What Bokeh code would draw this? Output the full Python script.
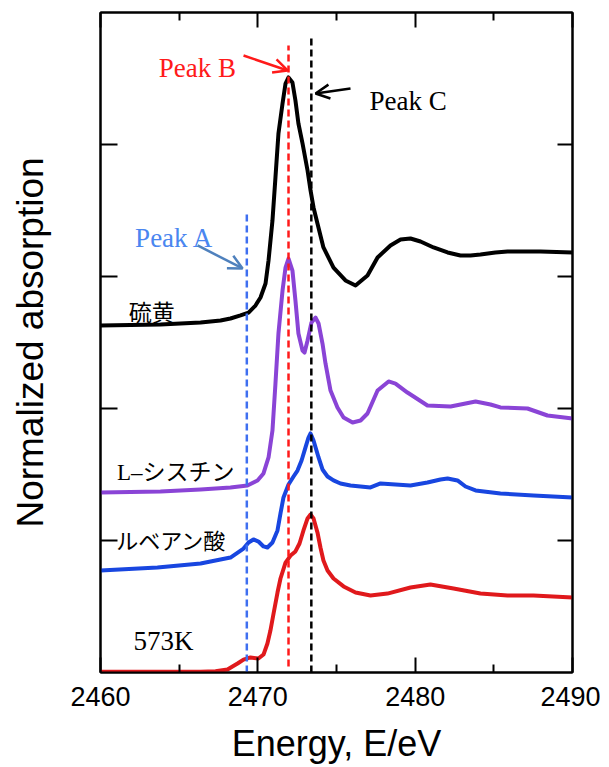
from bokeh.plotting import figure
from bokeh.models import (FixedTicker, LinearAxis, Label, Arrow, OpenHead, ColumnDataSource)
from bokeh.embed import file_html
from bokeh.resources import INLINE

# ---------------- data ----------------
E_sulfur = [2460.0, 2463.81, 2466.36, 2467.63, 2468.26, 2468.9, 2469.41, 2469.85, 2470.17, 2470.49,
            2470.68, 2470.93, 2471.12, 2471.31, 2471.57, 2471.76, 2471.95, 2472.2, 2472.39, 2472.58,
            2472.84, 2473.16, 2473.35, 2473.54, 2473.79, 2474.17, 2474.81, 2475.57, 2476.21, 2476.97,
            2477.61, 2478.43, 2479.07, 2479.7, 2480.34, 2481.17, 2482.06, 2482.88, 2483.52, 2484.15,
            2485.1, 2485.87, 2487.97, 2490.0]
A_sulfur = [2.629, 2.636, 2.652, 2.667, 2.682, 2.705, 2.727, 2.78, 2.841, 2.947,
            3.121, 3.424, 3.75, 4.083, 4.311, 4.462, 4.508, 4.47, 4.333, 4.159,
            4.008, 3.803, 3.652, 3.523, 3.402, 3.22, 3.068, 2.97, 2.932, 3.008,
            3.144, 3.235, 3.28, 3.288, 3.265, 3.22, 3.182, 3.159, 3.159, 3.167,
            3.182, 3.189, 3.189, 3.182]

E_cystine = [2460.0, 2463.81, 2466.36, 2468.26, 2469.34, 2469.98, 2470.36, 2470.68, 2470.93, 2471.12,
             2471.31, 2471.57, 2471.76, 2471.95, 2472.2, 2472.39, 2472.58, 2472.84, 2472.97, 2473.16,
             2473.41, 2473.67, 2473.86, 2474.11, 2474.3, 2474.62, 2475.06, 2475.45, 2476.02, 2476.53,
             2476.97, 2477.61, 2478.31, 2478.75, 2479.51, 2480.78, 2482.25, 2483.84, 2484.79, 2485.42,
             2487.14, 2488.41, 2490.0]
A_cystine = [1.364, 1.371, 1.386, 1.402, 1.417, 1.455, 1.508, 1.629, 1.833, 2.189,
             2.568, 2.894, 3.068, 3.136, 3.045, 2.818, 2.568, 2.439, 2.424, 2.515,
             2.652, 2.689, 2.644, 2.492, 2.341, 2.136, 2.008, 1.932, 1.894, 1.909,
             1.962, 2.136, 2.205, 2.189, 2.121, 2.023, 2.015, 2.053, 2.03, 2.008,
             2.0, 1.947, 1.924]

E_rubeanic = [2460.0, 2463.62, 2466.36, 2468.26, 2469.09, 2469.41, 2469.72, 2470.04, 2470.36, 2470.61,
              2470.93, 2471.25, 2471.44, 2471.63, 2471.95, 2472.27, 2472.52, 2472.78, 2473.03, 2473.22,
              2473.35, 2473.54, 2473.86, 2474.11, 2474.43, 2474.81, 2475.25, 2475.89, 2477.16, 2477.8,
              2478.75, 2479.7, 2480.78, 2481.61, 2482.06, 2482.69, 2483.2, 2483.84, 2485.42, 2487.52,
              2490.0]
A_rubeanic = [0.773, 0.795, 0.826, 0.871, 0.939, 0.985, 1.008, 0.992, 0.955, 0.947,
              0.985, 1.076, 1.205, 1.326, 1.424, 1.485, 1.53, 1.606, 1.705, 1.78,
              1.811, 1.758, 1.629, 1.538, 1.485, 1.455, 1.432, 1.417, 1.402, 1.432,
              1.424, 1.417, 1.439, 1.462, 1.47, 1.455, 1.409, 1.379, 1.356, 1.341,
              1.326]

E_573K = [2460.0, 2463.81, 2466.36, 2467.31, 2468.07, 2468.71, 2469.09, 2469.53, 2470.04, 2470.36,
          2470.61, 2470.8, 2471.0, 2471.25, 2471.44, 2471.76, 2472.08, 2472.39, 2472.65, 2472.9,
          2473.16, 2473.35, 2473.54, 2473.79, 2473.98, 2474.17, 2474.43, 2474.81, 2475.45, 2476.21,
          2477.16, 2478.24, 2479.7, 2480.97, 2482.44, 2484.15, 2485.87, 2487.52, 2490.0]
A_573K = [0.005, 0.005, 0.006, 0.01, 0.023, 0.068, 0.098, 0.114, 0.106, 0.136,
          0.22, 0.318, 0.447, 0.606, 0.712, 0.833, 0.886, 0.917, 0.977, 1.076,
          1.167, 1.197, 1.167, 1.061, 0.947, 0.848, 0.773, 0.712, 0.652, 0.606,
          0.583, 0.598, 0.644, 0.667, 0.636, 0.598, 0.583, 0.583, 0.568]

peak_E = [2469.3, 2471.95, 2473.4]      # Peak A, Peak B, Peak C
peak_y0 = [0.0, 0.045, 0.0]
peak_y1 = [3.48, 4.75, 4.81]
peak_colors = ["#3f6ff0", "#ff1a1a", "#000000"]

x_major = [2460, 2470, 2480, 2490]
x_minor = [2465, 2475, 2485]
y_major = [1, 2, 3, 4]

# ---------------- figure ----------------
p = figure(width=600, height=767, x_range=(2460, 2490), y_range=(0, 5),
           output_backend="svg", toolbar_location=None,
           min_border_left=100, min_border_right=28, min_border_top=12, min_border_bottom=95)
p.grid.visible = False
p.outline_line_color = "black"
p.outline_line_width = 2
p.background_fill_color = "white"
p.border_fill_color = "white"

xa = p.xaxis[0]
xa.ticker = FixedTicker(ticks=x_major, minor_ticks=x_minor)
xa.major_tick_in = 15
xa.major_tick_out = 0
xa.minor_tick_in = 8
xa.minor_tick_out = 0
xa.axis_line_width = 2
xa.major_tick_line_width = 2
xa.minor_tick_line_width = 2
xa.major_label_text_font = "Liberation Sans"
xa.major_label_text_font_size = "27px"
xa.major_label_text_color = "black"
xa.major_label_standoff = 14
xa.axis_label = "Energy, E/eV"
xa.axis_label_text_font = "Liberation Sans"
xa.axis_label_text_font_size = "36px"
xa.axis_label_text_font_style = "normal"
xa.axis_label_text_color = "black"
xa.axis_label_standoff = 14

ya = p.yaxis[0]
ya.ticker = FixedTicker(ticks=y_major, minor_ticks=[])
ya.major_tick_in = 17
ya.major_tick_out = 0
ya.minor_tick_line_color = None
ya.axis_line_width = 2
ya.major_tick_line_width = 2
ya.major_label_overrides = {t: "" for t in y_major}
ya.major_label_text_font_size = "1px"
ya.axis_label = "Normalized absorption"
ya.axis_label_text_font = "Liberation Sans"
ya.axis_label_text_font_size = "37px"
ya.axis_label_text_font_style = "normal"
ya.axis_label_text_color = "black"
ya.axis_label_standoff = 50

top = LinearAxis(ticker=FixedTicker(ticks=x_major, minor_ticks=x_minor),
                 major_tick_in=15, major_tick_out=0, minor_tick_in=8, minor_tick_out=0,
                 axis_line_width=2, major_tick_line_width=2, minor_tick_line_width=2,
                 major_label_text_font_size="0px", major_label_standoff=0,
                 major_label_overrides={t: "" for t in x_major})
p.add_layout(top, "above")
right = LinearAxis(ticker=FixedTicker(ticks=y_major, minor_ticks=[]),
                   major_tick_in=15, major_tick_out=0, minor_tick_line_color=None,
                   axis_line_width=2, major_tick_line_width=2,
                   major_label_text_font_size="0px", major_label_standoff=0,
                   major_label_overrides={t: "" for t in y_major})
p.add_layout(right, "right")

# ---------------- curves ----------------
lw = 4
p.line(E_sulfur, A_sulfur, line_color="#000000", line_width=lw, line_join="round")
p.line(E_cystine, A_cystine, line_color="#8a44d6", line_width=lw, line_join="round")
p.line(E_rubeanic, A_rubeanic, line_color="#1846e0", line_width=lw, line_join="round")
p.line(E_573K, A_573K, line_color="#e0191c", line_width=lw, line_join="round")

# ---------------- peak marker lines ----------------
src = ColumnDataSource(dict(x=peak_E, y0=peak_y0, y1=peak_y1, c=peak_colors))
p.segment(x0="x", y0="y0", x1="x", y1="y1", source=src, line_color="c",
          line_width=2.5, line_dash="7 4")

# ---------------- labels ----------------
def lab(x, y, text, font, size, color="black"):
    p.add_layout(Label(x=x, y=y, text=text, text_font=font, text_font_size=size,
                       text_color=color, text_align="left", text_baseline="middle"))

cjk = "Noto Sans CJK JP"
serif = "Liberation Serif"
lab(2461.8, 2.742, "硫黄", cjk, "23px")
lab(2461.05, 1.515, "L\u2013シスチン", "Liberation Serif, Noto Sans CJK JP", "23px")
lab(2461.0, 1.015, "ルベアン酸", cjk, "22px")
lab(2462.1, 0.242, "573K", serif, "27px")
lab(2462.2, 3.295, "Peak A", serif, "27px", "#4a86f0")
lab(2463.7, 4.576, "Peak B", serif, "27px", "#ff1a1a")
lab(2477.1, 4.333, "Peak C", serif, "27px", "#000000")

# ---------------- arrows ----------------
p.add_layout(Arrow(x_start=2466.17, y_start=3.235, x_end=2469.03, y_end=3.061,
                   line_color="#4f81bd", line_width=2.5,
                   end=OpenHead(size=14, line_color="#4f81bd", line_width=2.5)))
p.add_layout(Arrow(x_start=2469.09, y_start=4.674, x_end=2471.89, y_end=4.561,
                   line_color="#ff1a1a", line_width=2.5,
                   end=OpenHead(size=14, line_color="#ff1a1a", line_width=2.5)))
p.add_layout(Arrow(x_start=2475.89, y_start=4.424, x_end=2473.67, y_end=4.386,
                   line_color="#000000", line_width=2.5,
                   end=OpenHead(size=14, line_color="#000000", line_width=2.5)))

open("out.html", "w").write(file_html(p, INLINE))
